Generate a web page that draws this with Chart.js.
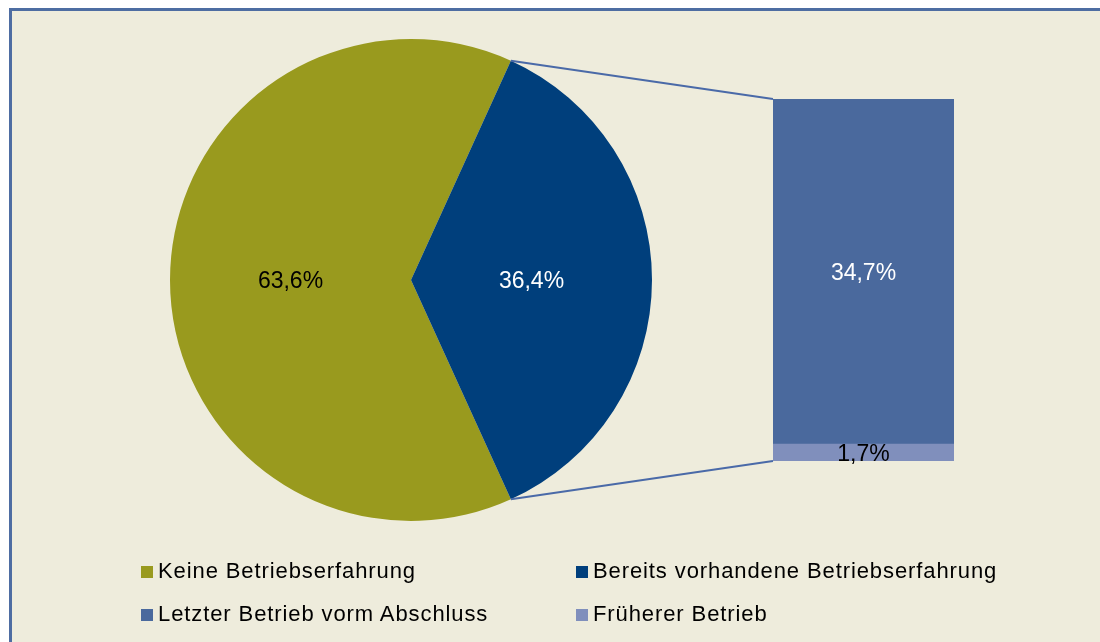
<!DOCTYPE html>
<html>
<head>
<meta charset="utf-8">
<script src="https://cdn.jsdelivr.net/npm/chart.js@4.4.1/dist/chart.umd.min.js"></script>
<style>
  body { margin: 0; background: #fff; overflow: hidden; }
  #frame {
    position: absolute; left: 9px; top: 8px; width: 1200px; height: 700px;
    background: #EEECDC;
    border-left: 3px solid #4E6DA2; border-top: 3px solid #4E6DA2;
  }
  canvas { position: absolute; left: 0; top: 0; }
  #legend {
    position: absolute; left: 141px; top: 549px;
    display: grid; grid-template-columns: 435px auto;
    font-family: "Liberation Sans", Arial, sans-serif; font-size: 22px;
    letter-spacing: 0.9px; line-height: 43px; color: #000;
  }
  #legend .box { display: inline-block; width: 12px; height: 12px; margin-right: 5px; }
</style>
</head>
<body>
<div id="frame"></div>
<canvas id="pieChart" width="1100" height="642"></canvas>
<canvas id="barChart" width="1100" height="642"></canvas>
<div id="legend"></div>

<script>
// EXPERIENCE - PIE OF PIE

const pieLabels = ["Keine Betriebserfahrung", "Bereits vorhandene Betriebserfahrung"];
const pieValues = [63.6, 36.4];
const pieColors = ["#999A1E", "#003F7C"];
const pieTextColors = ["#000", "#fff"];

const barLabels = ["Früherer Betrieb", "Letzter Betrieb vorm Abschluss"];
const barValues = [1.7, 34.7];
const barColors = ["#808FBC", "#4A699D"];
const barTextColors = ["#000", "#fff"];

const fmt = v => v.toFixed(1).replace(".", ",") + "%";
const labelFont = '23px "Liberation Sans", Arial, sans-serif';

// labels in the middle of each slice / segment
const valueLabels = {
    id: "valueLabels",
    afterDatasetsDraw(chart) {
        const ctx = chart.ctx;
        ctx.save();
        ctx.font = labelFont;
        ctx.textAlign = "center";
        ctx.textBaseline = "middle";
        chart.data.datasets.forEach((ds, i) => {
            chart.getDatasetMeta(i).data.forEach((el, j) => {
                const p = el.getCenterPoint();
                ctx.fillStyle = Array.isArray(ds.textColor) ? ds.textColor[j] : ds.textColor;
                ctx.fillText(fmt(ds.data[j]), p.x, p.y + 2);
            });
        });
        ctx.restore();
    }
};

const pieChart = new Chart(document.getElementById("pieChart"), {
    type: "pie",
    data: {
        labels: pieLabels,
        datasets: [{
            data: pieValues,
            backgroundColor: pieColors,
            textColor: pieTextColors,
            borderWidth: 0,
            hoverOffset: 0
        }]
    },
    options: {
        responsive: false,
        animation: false,
        // blue slice centred on the right side
        rotation: 90 + pieValues[1] * 1.8,
        layout: { padding: { left: 170, top: 39, right: 448, bottom: 121 } },
        plugins: { legend: { display: false }, tooltip: { enabled: false } }
    },
    plugins: [valueLabels]
});

// connector lines from the blue slice to the bar
const connector = {
    id: "connector",
    beforeDatasetsDraw(chart) {
        const arc = pieChart.getDatasetMeta(0).data[1];
        const r = arc.outerRadius;
        const low = chart.getDatasetMeta(0).data[0];
        const top = chart.getDatasetMeta(1).data[0];
        const left = top.x - top.width / 2;
        const ctx = chart.ctx;
        ctx.save();
        ctx.strokeStyle = "#4A6AA8";
        ctx.lineWidth = 2;
        ctx.beginPath();
        ctx.moveTo(arc.x + r * Math.cos(arc.startAngle), arc.y + r * Math.sin(arc.startAngle));
        ctx.lineTo(left, top.y);
        ctx.moveTo(arc.x + r * Math.cos(arc.endAngle), arc.y + r * Math.sin(arc.endAngle));
        ctx.lineTo(left, low.base);
        ctx.stroke();
        ctx.restore();
    }
};

const barChart = new Chart(document.getElementById("barChart"), {
    type: "bar",
    data: {
        labels: [""],
        datasets: barLabels.map((l, i) => ({
            label: l,
            data: [barValues[i]],
            backgroundColor: barColors[i],
            textColor: barTextColors[i],
            barPercentage: 1,
            categoryPercentage: 1,
            borderWidth: 0
        }))
    },
    options: {
        responsive: false,
        animation: false,
        layout: { padding: { left: 773, top: 99, right: 146, bottom: 181 } },
        scales: {
            x: { stacked: true, display: false },
            y: { stacked: true, display: false, min: 0, max: barValues[0] + barValues[1] }
        },
        plugins: { legend: { display: false }, tooltip: { enabled: false } }
    },
    plugins: [connector, valueLabels]
});

// LEGEND
const legendItems = [
    [pieLabels[0], pieColors[0]],
    [pieLabels[1], pieColors[1]],
    [barLabels[1], barColors[1]],
    [barLabels[0], barColors[0]]
];
document.getElementById("legend").innerHTML = legendItems
    .map(([t, c]) => '<div><span class="box" style="background:' + c + '"></span>' + t + '</div>')
    .join("");
</script>
</body>
</html>
